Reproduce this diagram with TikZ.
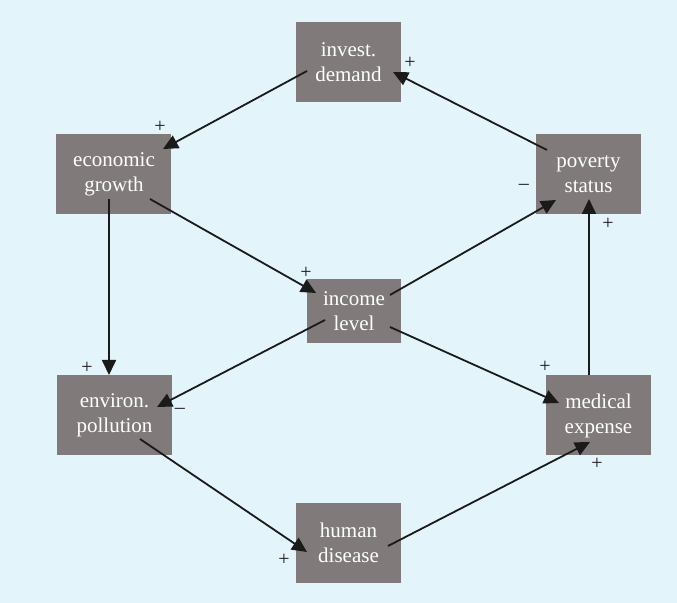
\documentclass[tikz,border=0pt]{standalone}
\usepackage{fontspec}
\setmainfont{Liberation Serif}
\usetikzlibrary{arrows.meta}
\definecolor{BoxGray}{RGB}{128,123,122}
\definecolor{PaleBlue}{RGB}{227,244,251}
\definecolor{ArrInk}{RGB}{26,26,26}

\begin{document}
\begin{tikzpicture}[x=0.5pt, y=-0.5pt,
    box/.style={fill=BoxGray, text=white, align=center, inner sep=0pt,
      minimum width=52.5pt, minimum height=40pt,
      font=\rmfamily\fontsize{10.5}{12.5}\selectfont},
    sign/.style={inner sep=0pt, text=ArrInk, font=\rmfamily\fontsize{10}{10}\selectfont},
    link/.style={ArrInk, line width=0.9pt, -{Triangle[length=7.5pt, width=7pt]}}]
  \fill[PaleBlue] (0,0) rectangle (677,603);
  \useasboundingbox (0,0) rectangle (677,603);
  % boxes
  \node[box] (invest) at (348.5,62) {invest.\\demand};
  \node[box, minimum width=57.5pt] (growth) at (114,174) {economic\\growth};
  \node[box] (poverty) at (588.5,174) {poverty\\status};
  \node[box, minimum width=47pt, minimum height=32pt] (income) at (354,311) {income\\level};
  \node[box, minimum width=57.5pt] (pollution) at (114.5,415.5) {environ.\\pollution};
  \node[box] (medical) at (598.5,415.5) {medical\\expense};
  \node[box] (disease) at (348.5,543) {human\\disease};
  % links
  \draw[link] ([shift={(-41.5,-24)}]poverty.center) -- ([shift={(44.5,10)}]invest.center);
  \draw[link] ([shift={(-41.5,9)}]invest.center) -- ([shift={(49,-25)}]growth.center);
  \draw[link] ([shift={(-5,25)}]growth.center) -- ([shift={(-5.5,-40.5)}]pollution.center);
  \draw[link] ([shift={(36,25)}]growth.center) -- ([shift={(-38,-18)}]income.center);
  \draw[link] ([shift={(36,-16)}]income.center) -- ([shift={(-32.5,26)}]poverty.center);
  \draw[link] ([shift={(-29,9)}]income.center) -- ([shift={(42.5,-8.5)}]pollution.center);
  \draw[link] ([shift={(36,16)}]income.center) -- ([shift={(-39.5,-12.5)}]medical.center);
  \draw[link] ([shift={(-9.5,-40.5)}]medical.center) -- ([shift={(0.5,25)}]poverty.center);
  \draw[link] ([shift={(25.5,23.5)}]pollution.center) -- ([shift={(-41.5,9)}]disease.center);
  \draw[link] ([shift={(39.5,3)}]disease.center) -- ([shift={(-8.5,26.5)}]medical.center);
  % signs
  \node[sign] (sInvest) at (410,63) {+};
  \node[sign] (sGrowth) at (160,127) {+};
  \node[sign] (sPollTop) at (87,368) {+};
  \node[sign] (sIncome) at (306,273) {+};
  \node[sign] (sPovLeft) at (524,187) {\textendash};
  \node[sign] (sPollRight) at (180,411) {\textendash};
  \node[sign] (sMedTop) at (545,367) {+};
  \node[sign] (sPovBottom) at (608,224) {+};
  \node[sign] (sMedBottom) at (597,464) {+};
  \node[sign] (sDisease) at (284,560) {+};
\end{tikzpicture}
\end{document}
